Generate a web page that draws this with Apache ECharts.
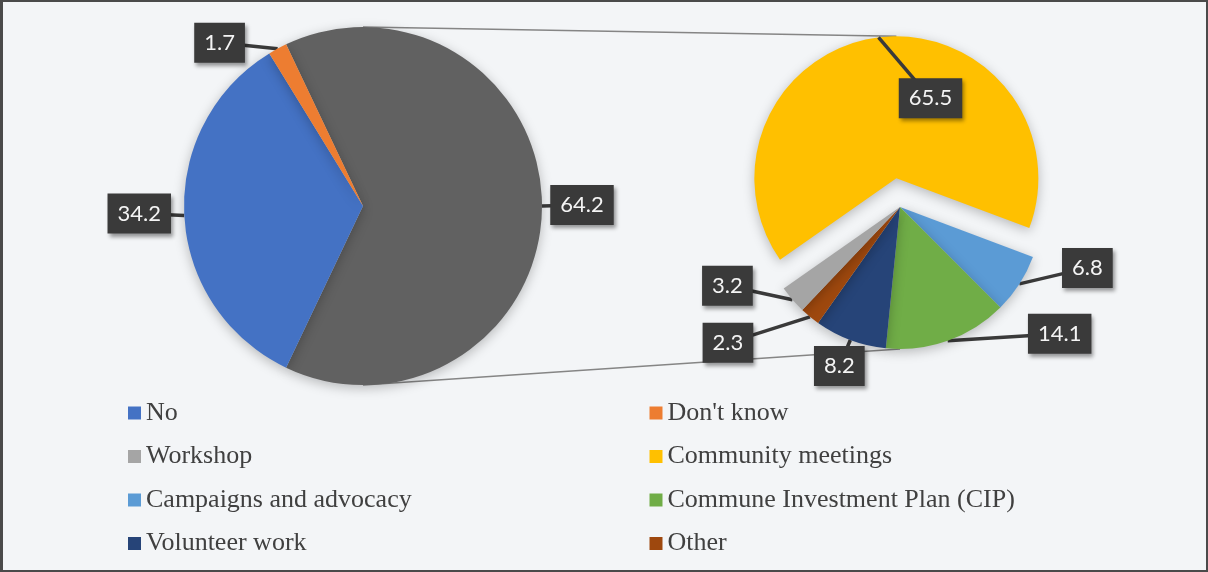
<!DOCTYPE html>
<html>
<head>
<meta charset="utf-8">
<script src="https://cdn.jsdelivr.net/npm/echarts@6/dist/echarts.min.js"></script>
<style>
  html, body { margin: 0; padding: 0; background: #f3f5f7; }
  #wrap { position: relative; width: 1208px; height: 572px; }
  #chart { width: 1208px; height: 572px; }
  #frame { position: absolute; left: 0; top: 0; width: 1208px; height: 572px; box-sizing: border-box;
           border: 2px solid #4a4a4a; border-left-width: 3px; pointer-events: none; }
</style>
</head>
<body>
<div id="wrap"><div id="chart"></div><div id="frame"></div></div>
<script>
// Did respondents take part? (% of respondents)
const mainNames = ['Yes', 'No', "Don't know"];
const mainValues = [64.2, 34.2, 1.7];

// How the "yes" group took part (% of that group)
const detailNames = ['Community meetings', 'Campaigns and advocacy', 'Commune Investment Plan (CIP)',
                     'Volunteer work', 'Other', 'Workshop'];
const detailValues = [65.5, 6.8, 14.1, 8.2, 2.3, 3.2];

// Legend entries, in reading order (two columns)
const legendOrder = ['No', "Don't know", 'Workshop', 'Community meetings', 'Campaigns and advocacy',
                     'Commune Investment Plan (CIP)', 'Volunteer work', 'Other'];

const colors = {
  'Yes': '#616161',
  'No': '#4472C4',
  "Don't know": '#ED7D31',
  'Workshop': '#A5A5A5',
  'Community meetings': '#FFC000',
  'Campaigns and advocacy': '#5B9BD5',
  'Commune Investment Plan (CIP)': '#70AD47',
  'Volunteer work': '#264478',
  'Other': '#9E480E'
};

// Geometry of the two pies
const MAIN = { cx: 363, cy: 206, r: 179 };
const DETAIL = { cx: 900, cy: 207, r: 142, explode: 29, startAngle: 215 };
const PULLED = 0; // index of the detail slice that is pulled out

// Callout box centre relative to the point where its pointer touches the slice
const mainCallouts = [[40, -1], [-45, -2], [-58, -6]];
const detailCallouts = [[52, 61], [68, -16], [112, -7], [-11, 26], [-82, 26], [-65, -14]];

const sum = a => a.reduce((s, v) => s + v, 0);
// the aggregate slice faces the detail pie (centred on 3 o'clock)
const mainStart = mainValues[0] / sum(mainValues) * 180;
// direction in which the pulled-out slice is moved
const before = sum(detailValues.slice(0, PULLED));
const explodeDeg = DETAIL.startAngle - (before + detailValues[PULLED] / 2) / sum(detailValues) * 360;
const exRad = explodeDeg * Math.PI / 180;
const exCx = DETAIL.cx + DETAIL.explode * Math.cos(exRad);
const exCy = DETAIL.cy - DETAIL.explode * Math.sin(exRad);

function calloutLayout(offsets) {
  return function (p) {
    const pts = p.labelLinePoints;
    if (!pts || !pts.length) return {};
    const tip = pts[0];
    const o = offsets[p.dataIndex];
    const x = tip[0] + o[0], y = tip[1] + o[1];
    return { x: x, y: y, align: 'center', verticalAlign: 'middle', labelLinePoints: [tip, [x, y]] };
  };
}

const calloutLabel = {
  show: true,
  position: 'outside',
  formatter: '{c}',
  color: '#f4f4f4',
  fontFamily: 'Lato',
  fontSize: 22,
  lineHeight: 26,
  backgroundColor: '#3a3a3a',
  padding: [7, 10],
  shadowColor: 'rgba(0,0,0,0.4)',
  shadowBlur: 4,
  shadowOffsetX: 2,
  shadowOffsetY: 3
};
const calloutLine = {
  show: true, length: 10, length2: 10, smooth: false,
  lineStyle: { color: '#3a3a3a', width: 3.5 }
};
const sliceShadow = { shadowBlur: 12, shadowColor: 'rgba(0,0,0,0.25)', shadowOffsetY: 3 };
const hiddenItem = (n, v) => ({
  name: n, value: v, silent: true,
  itemStyle: { color: 'transparent', shadowColor: 'transparent', shadowBlur: 0 },
  label: { show: false }, labelLine: { show: false }
});

// detail pie drawn in layers: slices that stay in place, the pulled-out slice,
// and on top the callout of the pulled-out slice (its pointer lies over the slice)
function detailData(layer) {
  return detailNames.map((n, i) => {
    const v = detailValues[i];
    if (layer === 'fixed') {
      return i !== PULLED ? { name: n, value: v, itemStyle: { color: colors[n] } } : hiddenItem(n, v);
    }
    if (layer === 'pulled') {
      return i === PULLED
        ? { name: n, value: v, itemStyle: { color: colors[n] }, label: { show: false }, labelLine: { show: false } }
        : hiddenItem(n, v);
    }
    // callout layer
    if (i !== PULLED) return hiddenItem(n, v);
    const it = hiddenItem(n, v);
    it.label = { show: true };
    it.labelLine = { show: true };
    return it;
  });
}

const detailCommon = {
  type: 'pie',
  radius: DETAIL.r,
  startAngle: DETAIL.startAngle,
  clockwise: true,
  avoidLabelOverlap: false,
  emphasis: { disabled: true },
  itemStyle: sliceShadow,
  label: calloutLabel,
  labelLine: calloutLine,
  labelLayout: calloutLayout(detailCallouts)
};

const chart = echarts.init(document.getElementById('chart'));
chart.setOption({
  animation: false,
  backgroundColor: '#f3f5f7',
  legend: {
    data: legendOrder.map(n => ({ name: n, itemStyle: { color: colors[n] } })),
    left: 128, top: 398, width: 1040, padding: 0,
    icon: 'rect', itemWidth: 13, itemHeight: 13, itemGap: 13.5,
    selectedMode: false,
    textStyle: { fontFamily: 'Liberation Serif', fontSize: 26, color: '#404040', width: 490, lineHeight: 30 }
  },
  graphic: [
    { type: 'line', silent: true, z: 0,
      shape: { x1: MAIN.cx, y1: MAIN.cy - MAIN.r, x2: exCx, y2: exCy - DETAIL.r },
      style: { stroke: '#858585', lineWidth: 1.6 } },
    { type: 'line', silent: true, z: 0,
      shape: { x1: MAIN.cx, y1: MAIN.cy + MAIN.r, x2: DETAIL.cx, y2: DETAIL.cy + DETAIL.r },
      style: { stroke: '#858585', lineWidth: 1.6 } }
  ],
  series: [
    {
      type: 'pie',
      center: [MAIN.cx, MAIN.cy],
      radius: MAIN.r,
      startAngle: mainStart,
      clockwise: true,
      avoidLabelOverlap: false,
      emphasis: { disabled: true },
      itemStyle: sliceShadow,
      label: calloutLabel,
      labelLine: calloutLine,
      labelLayout: calloutLayout(mainCallouts),
      data: mainNames.map((n, i) => ({ name: n, value: mainValues[i], itemStyle: { color: colors[n] } }))
    },
    Object.assign({}, detailCommon, { center: [DETAIL.cx, DETAIL.cy], data: detailData('fixed') }),
    Object.assign({}, detailCommon, { center: [exCx, exCy], data: detailData('pulled') }),
    Object.assign({}, detailCommon, { center: [exCx, exCy], z: 3, silent: true, data: detailData('callout') })
  ]
});
</script>
</body>
</html>
